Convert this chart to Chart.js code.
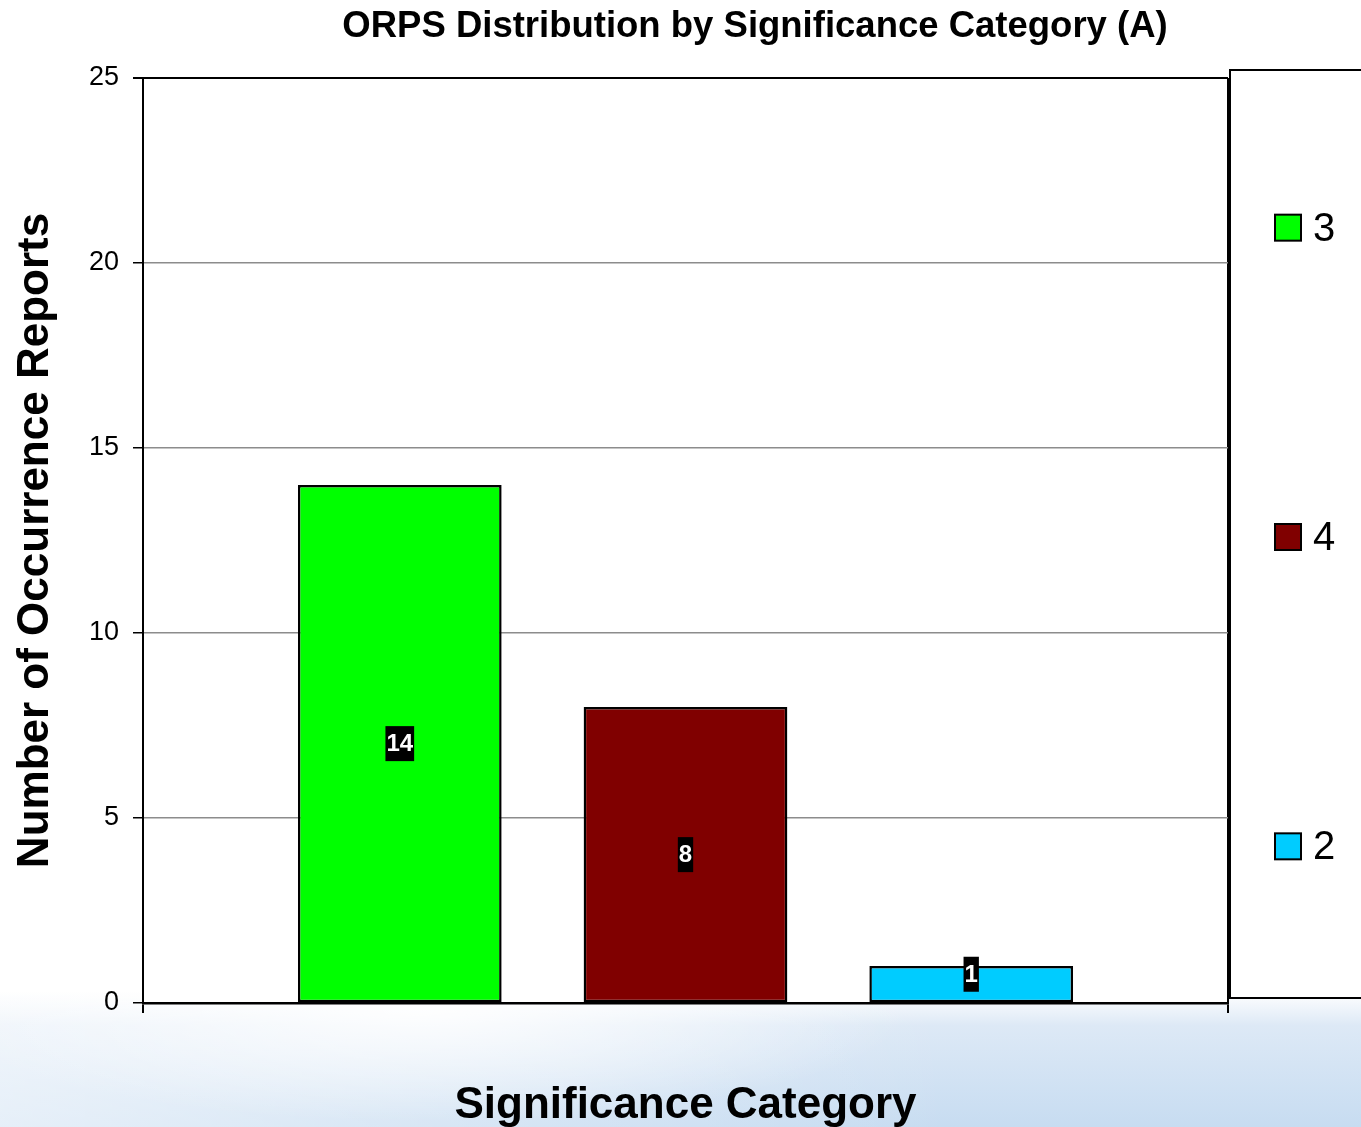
<!DOCTYPE html>
<html>
<head>
<meta charset="utf-8">
<script src="https://cdn.jsdelivr.net/npm/chart.js@4/dist/chart.umd.min.js"></script>
<style>
  html, body { margin: 0; padding: 0; }
  body {
    width: 1361px; height: 1127px; overflow: hidden;
    background:
      radial-gradient(ellipse 700px 160px at 420px 1010px, rgba(255,255,255,0.9), rgba(255,255,255,0) 70%),
      linear-gradient(to right, rgba(255,255,255,0.55), rgba(255,255,255,0) 70%),
      linear-gradient(to bottom, #ffffff 0%, #ffffff 88%, #dde9f6 91%, #c7dcf1 100%);
  }
  canvas { display: block; }
</style>
</head>
<body>
<canvas id="chart" width="1361" height="1127"></canvas>
<script>
// chart data
const categories = [''];
const seriesLabels = ['3', '4', '2'];
const seriesValues = [[14], [8], [1]];
const seriesColors = ['#00ff00', '#800000', '#00ccff'];
const yMin = 0, yMax = 25, yStep = 5;

const chartTitle = 'ORPS Distribution by Significance Category (A)';
const xTitle = 'Significance Category';
const yTitle = 'Number of Occurrence Reports';

const FONT = '"Liberation Sans", Arial, Helvetica, sans-serif';

// white plot area + title
const framePlugin = {
  id: 'frame',
  beforeDraw(chart) {
    const { ctx, chartArea: a } = chart;
    ctx.save();
    ctx.fillStyle = '#ffffff';
    ctx.fillRect(a.left, a.top, a.right - a.left, a.bottom - a.top);
    ctx.fillStyle = '#000';
    ctx.font = 'bold 36.5px ' + FONT;
    ctx.textAlign = 'center';
    ctx.textBaseline = 'middle';
    ctx.fillText(chartTitle, 755, 27);
    ctx.restore();
  }
};

// value labels: white text on black box in middle of each bar
const valueLabels = {
  id: 'valueLabels',
  afterDatasetsDraw(chart) {
    const { ctx } = chart;
    ctx.save();
    ctx.font = 'bold 24px ' + FONT;
    ctx.textAlign = 'center';
    ctx.textBaseline = 'middle';
    chart.data.datasets.forEach((ds, i) => {
      chart.getDatasetMeta(i).data.forEach((bar, j) => {
        const txt = String(ds.data[j]);
        const w = ctx.measureText(txt).width + 2;
        const h = 35;
        const cy = Math.min((bar.y + bar.base) / 2, bar.base - 28);
        ctx.fillStyle = '#000';
        ctx.fillRect(bar.x - w / 2, cy - h / 2, w, h);
        ctx.fillStyle = '#fff';
        ctx.fillText(txt, bar.x, cy + 1);
      });
    });
    ctx.restore();
  }
};

// legend drawn as a separate box to the right of the plot
const sideLegend = {
  id: 'sideLegend',
  afterDraw(chart) {
    const { ctx, chartArea: a } = chart;
    const left = a.right + 2, top = 70, bottom = 998;
    ctx.save();
    ctx.fillStyle = '#fff';
    ctx.fillRect(left, top, chart.width - left + 5, bottom - top);
    ctx.strokeStyle = '#000';
    ctx.lineWidth = 2;
    ctx.strokeRect(left, top, chart.width - left + 5, bottom - top);
    const n = chart.data.datasets.length;
    const slot = (bottom - top) / n;
    ctx.font = '40px ' + FONT;
    ctx.textBaseline = 'middle';
    ctx.textAlign = 'left';
    chart.data.datasets.forEach((ds, i) => {
      const cy = top + slot * (i + 0.5) + 3;
      ctx.fillStyle = ds.backgroundColor;
      ctx.fillRect(1275, cy - 13, 26, 26);
      ctx.lineWidth = 2;
      ctx.strokeRect(1275, cy - 13, 26, 26);
      ctx.fillStyle = '#000';
      ctx.fillText(ds.label, 1313, cy + 2);
    });
    ctx.restore();
  }
};

new Chart(document.getElementById('chart'), {
  type: 'bar',
  data: {
    labels: categories,
    datasets: seriesLabels.map((lab, i) => ({
      label: lab,
      data: seriesValues[i],
      backgroundColor: seriesColors[i],
      borderColor: '#000',
      borderWidth: 2.5,
      borderSkipped: false,
      categoryPercentage: 0.79,
      barPercentage: 0.713
    }))
  },
  options: {
    responsive: false,
    animation: false,
    devicePixelRatio: 1,
    layout: { padding: { top: 78, right: 133, left: 0, bottom: 0 } },
    plugins: {
      legend: { display: false },
      title: { display: false },
      tooltip: { enabled: false }
    },
    scales: {
      x: {
        offset: true,
        grid: {
          offset: true,
          color: '#000',
          lineWidth: 2,
          tickLength: 10,
          tickColor: '#000'
        },
        border: { display: true, color: '#000', width: 2.5 },
        ticks: { display: false },
        title: {
          display: true,
          text: xTitle,
          color: '#000',
          font: { family: FONT, size: 44, weight: 'bold' },
          padding: { top: 0, bottom: -5 }
        },
        afterFit(scale) { scale.height = 124; }
      },
      y: {
        min: yMin,
        max: yMax,
        grid: {
          color: (c) => (c.tick && c.tick.value === yMax ? '#000' : '#8c8c8c'),
          lineWidth: (c) => (c.tick && c.tick.value === yMax ? 2 : 1.5),
          tickLength: 10,
          tickColor: '#000'
        },
        border: { display: true, color: '#000', width: 2 },
        ticks: {
          stepSize: yStep,
          color: '#000',
          padding: 14,
          font: { family: FONT, size: 27 }
        },
        title: {
          display: true,
          text: yTitle,
          color: '#000',
          font: { family: FONT, size: 44, weight: 'bold' },
          padding: { top: 9, bottom: 0 }
        },
        afterFit(scale) { scale.width = 143; }
      }
    }
  },
  plugins: [framePlugin, valueLabels, sideLegend]
});
</script>
</body>
</html>
